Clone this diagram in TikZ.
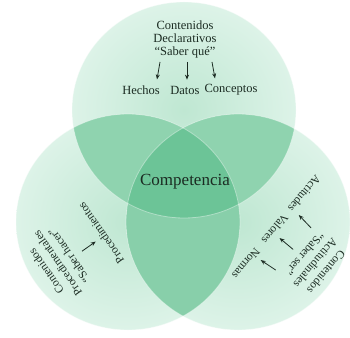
\documentclass[tikz,border=0pt]{standalone}
\usepackage{fontspec}
\setmainfont{Liberation Serif}
\usetikzlibrary{arrows.meta}
\definecolor{singleC}{HTML}{BFE7D2}
\definecolor{singleO}{HTML}{DDF3E8}
\definecolor{pairC}{HTML}{8FD3AF}
\definecolor{lensC}{HTML}{88CFAA}
\definecolor{tripleC}{HTML}{6CC497}
\definecolor{txt}{HTML}{1B2B22}
\begin{document}
\begin{tikzpicture}[x=1pt,y=1pt,
  lbl/.style={font=\fontsize{12.5}{13}\selectfont, text=txt, inner sep=0pt, transform shape},
  slbl/.style={font=\fontsize{11.5}{12}\selectfont, text=txt, inner sep=0pt, transform shape},
  big/.style={font=\fontsize{17}{18}\selectfont, text=txt, inner sep=0pt},
  arr/.style={-{Stealth[length=5pt,width=4pt]}, line width=0.8pt, draw=txt},
  rim/.style={draw=white, draw opacity=0.4, line width=0.8pt}]
\useasboundingbox (0,0) rectangle (350,337);
\fill[white] (0,0) rectangle (350,337);
\def\TopE{(184,227) ellipse [x radius=112pt, y radius=108pt]}
\def\LeftE{(128,115) ellipse [x radius=112pt, y radius=108pt]}
\def\RightE{(238,115) ellipse [x radius=112pt, y radius=108pt]}
% single circles
\shade[inner color=singleC, outer color=singleO] \TopE;
\shade[inner color=singleC, outer color=singleO] \LeftE;
\shade[inner color=singleC, outer color=singleO] \RightE;
% pairwise overlaps
\begin{scope}\clip \TopE; \fill[pairC] \LeftE; \fill[pairC] \RightE; \end{scope}
\begin{scope}\clip \LeftE; \fill[lensC] \RightE; \end{scope}
% triple overlap
\begin{scope}\clip \TopE; \clip \LeftE; \fill[tripleC] \RightE; \end{scope}
\draw[rim] \TopE; \draw[rim] \LeftE; \draw[rim] \RightE;

% top circle
\begin{scope}[shift={(185,247)}]
  \node[lbl] (tc1) at (0,65) {Contenidos};
  \node[lbl] (tc2) at (0,52) {Declarativos};
  \node[lbl] (tc3) at (0,38) {“Saber qué”};
  \node[lbl] (tw1) at (-44,0) {Hechos};
  \node[lbl] (tw2) at (0,0) {Datos};
  \node[lbl] (tw3) at (46,0) {Conceptos};
  \coordinate (ta1) at (-25,28); \coordinate (ta2) at (2,28); \coordinate (ta3) at (27,28);
  \draw[arr] (ta1) -- ([xshift=16pt,yshift=6pt]tw1.north);
  \draw[arr] (ta2) -- ([xshift=2pt,yshift=6pt]tw2.north);
  \draw[arr] (ta3) -- ([xshift=-16pt,yshift=6pt]tw3.north);
\end{scope}

% centre
\node[big] (comp) at (185,155) {Competencia};

% left circle
\begin{scope}[shift={(101,104)}, rotate=125]
  \node[slbl] (lc1) at (0,67) {Contenidos};
  \node[slbl] (lc2) at (0,53) {Procedimentales};
  \node[slbl] (lc3) at (0,39) {“Saber hacer”};
  \node[slbl] (lw1) at (0,0) {Procedimientos};
  \coordinate (la1) at (-4,26);
  \draw[arr] (la1) -- ([xshift=-4pt,yshift=5pt]lw1.north);
\end{scope}

% right circle
\begin{scope}[shift={(275,108)}, rotate=-130]
  \node[slbl] (rc1) at (0,67) {Contenidos};
  \node[slbl] (rc2) at (0,53) {Actitudinales};
  \node[slbl] (rc3) at (0,39) {“Saber ser”};
  \node[slbl] (rw1) at (-46,0) {Actitudes};
  \node[slbl] (rw2) at (0,0) {Valores};
  \node[slbl] (rw3) at (45,0) {Normas};
  \coordinate (ra1) at (-24,27); \coordinate (ra2) at (4,27); \coordinate (ra3) at (31,27);
  \draw[arr] (ra1) -- ([xshift=20pt,yshift=5pt]rw1.north);
  \draw[arr] (ra2) -- ([xshift=4pt,yshift=5pt]rw2.north);
  \draw[arr] (ra3) -- ([xshift=-12pt,yshift=5pt]rw3.north);
\end{scope}
\end{tikzpicture}
\end{document}
